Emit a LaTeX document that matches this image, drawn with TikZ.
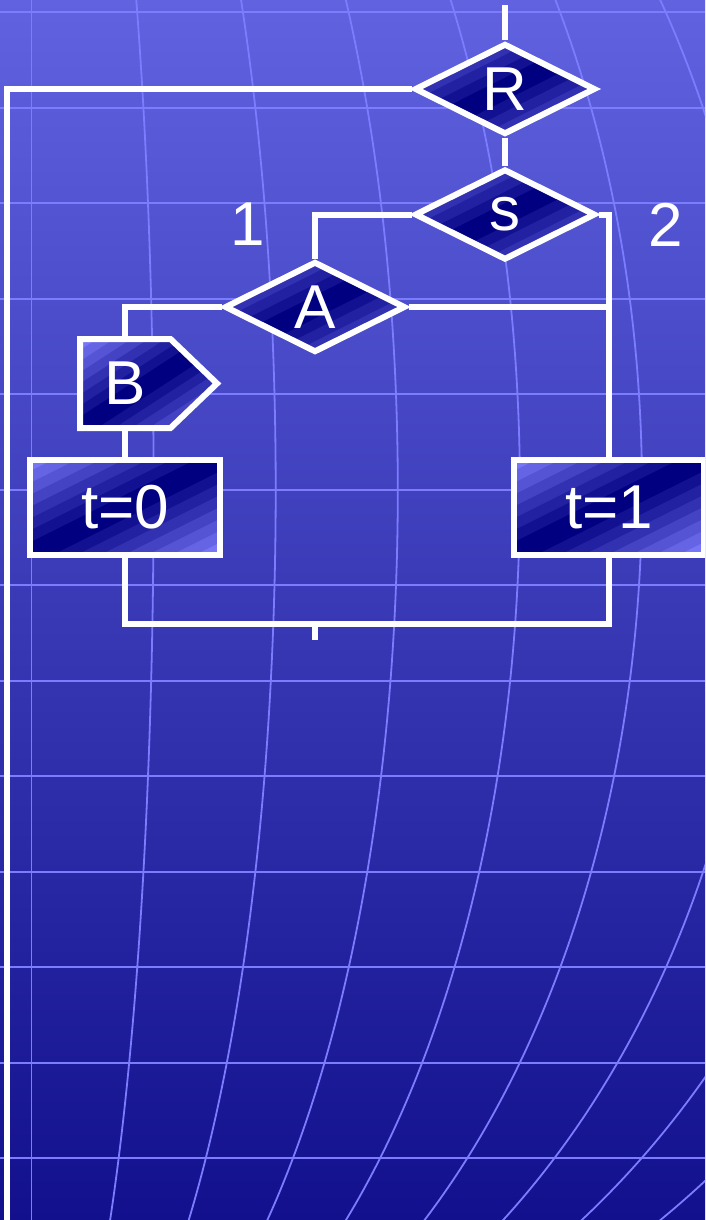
\documentclass[tikz,border=0pt]{standalone}
\usepackage{fontspec}
\setmainfont{Liberation Sans}
\usetikzlibrary{shapes.geometric}

\definecolor{bgtop}{RGB}{96,98,224}
\definecolor{bgbot}{RGB}{18,16,140}
\definecolor{gridblue}{RGB}{124,124,255}
\definecolor{navy}{RGB}{0,0,128}
\definecolor{lightblue}{RGB}{118,118,246}

\begin{document}
\begin{tikzpicture}[x=1pt, y=-1pt,
  gridline/.style={gridblue, line width=1.8pt},
  flow/.style={draw=white, line width=6pt},
  % banded fill: light corners, navy along the rising diagonal
  chip/.style 2 args={draw=white, line width=6pt, path picture={
    \begin{scope}[shift={(path picture bounding box.center)}, x=#1, y=#2]
      \fill[lightblue] (-3,-3) rectangle (3,3);
      \foreach \i in {6,...,0} {
        \pgfmathtruncatemacro\lev{\i*100/7}
        \fill[lightblue!\lev!navy] (-3,{-3-(\i+1)/4}) -- (3,{3-(\i+1)/4})
          -- (3,{3+(\i+1)/4}) -- (-3,{-3+(\i+1)/4}) -- cycle;
      }
    \end{scope}}},
  lbl/.style={text=white, font=\fontsize{62}{70}\selectfont, inner sep=0pt},
  cond/.style={chip={90.5pt}{45.5pt}, lbl, diamond, aspect=2,
    minimum width=181pt, minimum height=91pt},
  act/.style={chip={95pt}{47.5pt}, lbl, rectangle,
    minimum width=190pt, minimum height=95pt}]

  % page and background
  \useasboundingbox (0,0) rectangle (705,1220);
  \clip (0,0) rectangle (705,1220);
  \shade[top color=bgtop, bottom color=bgbot] (0,0) rectangle (705,1220);

  % curved background grid
  \foreach \j in {0,...,12}
    \draw[gridline] (0,{12.3+95.5*\j}) -- (705,{12.3+95.5*\j});
  \draw[gridline] (31.5,0) -- (31.5,1220);
  \foreach \k in {1,...,8}
    \draw[gridline] (31.5,490) ellipse [x radius={\k*122.1pt}, y radius=954pt];

  % blocks
  \node[cond] (R) at (505,89) {R};
  \node[cond] (s) at (505,214.5) {s};
  \node[cond] (A) at (315,307) {A};
  \path[chip={68.5pt}{44.5pt}] (80,339) -- (170.5,339) -- (217,383.5)
    -- (170.5,428) -- (80,428) -- cycle;
  \node[lbl, minimum width=91pt, minimum height=89pt] (B) at (125,383.5) {B};
  \node[act] (t0) at (125,507.5) {t=0};
  \node[act] (t1) at (609,507.5) {t=1};

  % branch labels
  \node[lbl] (one) at (248,224.5) {1};
  \node[lbl] (two) at (665.5,224.5) {2};

  % connectors
  \coordinate (entry) at (505,5);
  \coordinate (back) at (7,1230);
  \coordinate (merge) at (315,624);
  \coordinate (exit) at (315,640);
  \draw[flow] (entry) -- (R.north);
  \draw[flow] (R.west) -| (back);
  \draw[flow] (R.south) -- (s.north);
  \draw[flow] (s.west) -| (A.north);
  \draw[flow] (s.east) -| (t1.north);
  \draw[flow] (A.west) -| (B.north);
  \draw[flow] (A.east) -- (A.east -| t1.north);
  \draw[flow] (B.south) -- (t0.north);
  \draw[flow] (t0.south) |- (merge) -| (t1.south);
  \draw[flow] (merge) -- (exit);

\end{tikzpicture}
\end{document}
